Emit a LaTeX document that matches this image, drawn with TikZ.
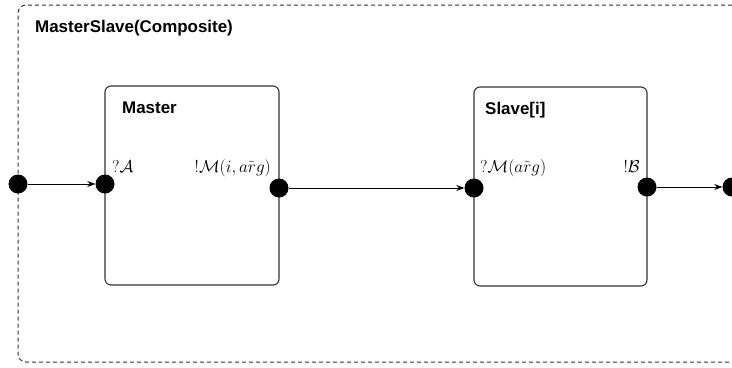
\documentclass[tikz,border=0pt]{standalone}
\usepackage[no-math]{fontspec}
\setmainfont{Liberation Sans}
\usetikzlibrary{arrows.meta}
\begin{document}
\begin{tikzpicture}[x=1bp,y=-1bp,
  comp/.style={draw=black!80,line width=1.1bp,rounded corners=6bp},
  outer/.style={draw=black!80,dash pattern=on 4bp off 3bp,line width=1bp,rounded corners=8bp},
  port/.style={circle,fill=black,inner sep=0pt,minimum size=19bp},
  title/.style={font=\fontsize{17}{20}\selectfont\bfseries,anchor=base west,inner sep=0pt},
  plabel/.style={font=\fontsize{17}{20}\selectfont,inner sep=0pt},
  conn/.style={line width=0.9bp,-{Stealth[length=8bp,width=6bp]}}]
\useasboundingbox (0,0) rectangle (732,367);
\begin{scope}
\clip (0,0) rectangle (732,367);
\draw[outer] (760,5) -- (18,5) -- (18,362) -- (760,362);
\node[title] (top) at (35,32) {MasterSlave(Composite)};
\draw[comp] (105,86) rectangle (279,285);
\node[title] (mt) at (122,113) {Master};
\draw[comp] (474,87) rectangle (647,286);
\node[title] (st) at (485,114) {Slave[i]};
\node[plabel,anchor=base west] (la) at (112,172) {$\mathbf{?}\mathcal{A}$};
\node[plabel,anchor=base east] (lm) at (271,172) {$\mathbf{!}\mathcal{M}(i,\tilde{arg})$};
\node[plabel,anchor=base west] (lsm) at (480,172) {$\mathbf{?}\mathcal{M}(\tilde{arg})$};
\node[plabel,anchor=base east] (lb) at (640,172) {$\mathbf{!}\mathcal{B}$};
\node[port] (pin) at (18,184) {};
\node[port] (min) at (105,184) {};
\node[port] (mout) at (279,188) {};
\node[port] (sin) at (474,188) {};
\node[port] (sout) at (647,187) {};
\node[port] (pout) at (732,187) {};
\draw[conn] (pin) -- (min);
\draw[conn] (mout) -- (sin);
\draw[conn] (sout) -- (pout);
\end{scope}
\end{tikzpicture}
\end{document}
